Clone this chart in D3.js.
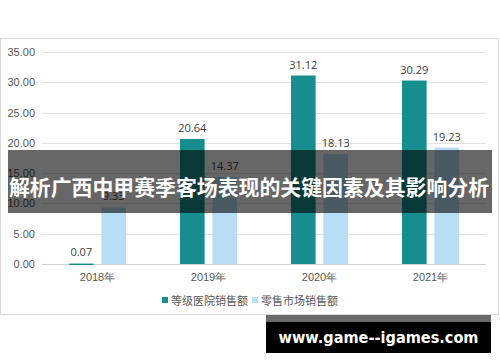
<!DOCTYPE html>
<html>
<head>
<meta charset="utf-8">
<script src="https://cdn.jsdelivr.net/npm/d3@7"></script>
<style>
  body { margin: 0; background: #fff; }
  svg { display: block; font-family: "Open Sans", "Noto Sans CJK SC", sans-serif; }
</style>
</head>
<body>
<svg id="chart" width="500" height="362"></svg>
<script>
// data
const years = ['2018年', '2019年', '2020年', '2021年'];
const seriesNames = ['等级医院销售额', '零售市场销售额'];
const hospitalSales = [0.07, 20.64, 31.12, 30.29];
const retailSales = [9.33, 14.37, 18.13, 19.23];
const yTicks = [0, 5, 10, 15, 20, 25, 30, 35];

const titleText = '解析广西中甲赛季客场表现的关键因素及其影响分析';
const watermark = 'www.game--igames.com';

const colors = ['#168e8f', '#b7def4'];

const svg = d3.select('#chart');

// chart frame
svg.append('rect')
  .attr('x', 0.5).attr('y', 38.5)
  .attr('width', 498).attr('height', 276)
  .attr('fill', '#fff')
  .attr('stroke', '#d9d9d9');

const plot = { left: 42, right: 486, top: 52, bottom: 264 };

const x = d3.scaleBand()
  .domain(years)
  .range([plot.left, plot.right]);

const xInner = d3.scaleBand()
  .domain([0, 1])
  .range([0, 57])
  .paddingInner(0.24);

const y = d3.scaleLinear()
  .domain([0, 35])
  .range([plot.bottom, plot.top]);

// gridlines
svg.append('g')
  .selectAll('line')
  .data(yTicks)
  .enter()
  .append('line')
    .attr('x1', plot.left).attr('x2', plot.right)
    .attr('y1', d => Math.round(y(d)) + 0.5)
    .attr('y2', d => Math.round(y(d)) + 0.5)
    .attr('stroke', d => d === 0 ? '#d0d0d0' : '#e3e3e3')
    .attr('stroke-width', 1);

// y axis labels
const yAxis = d3.axisLeft(y).tickValues(yTicks).tickFormat(d3.format('.2f')).tickSize(0).tickPadding(7);
svg.append('g')
  .attr('transform', 'translate(' + plot.left + ',0)')
  .call(yAxis)
  .call(g => g.select('.domain').remove())
  .selectAll('text')
    .attr('fill', '#595959')
    .style('font-size', '11px');

// x axis labels
const xAxis = d3.axisBottom(x).tickSize(0).tickPadding(9);
svg.append('g')
  .attr('transform', 'translate(0,' + plot.bottom + ')')
  .call(xAxis)
  .call(g => g.select('.domain').remove())
  .selectAll('text')
    .attr('fill', '#595959')
    .style('font-size', '11px');

// bars
const rows = years.map((yr, i) => ({ year: yr, values: [hospitalSales[i], retailSales[i]] }));

const groups = svg.append('g')
  .selectAll('g')
  .data(rows)
  .enter()
  .append('g')
    .attr('transform', d => 'translate(' + (x(d.year) + (x.bandwidth() - 57) / 2) + ',0)');

groups.selectAll('rect')
  .data(d => d.values.map((v, k) => ({ v: v, k: k })))
  .enter()
  .append('rect')
    .attr('x', d => xInner(d.k))
    .attr('width', xInner.bandwidth())
    .attr('y', d => y(d.v))
    .attr('height', d => Math.max(1.5, plot.bottom - y(d.v)))
    .attr('fill', d => colors[d.k]);

groups.selectAll('text')
  .data(d => d.values.map((v, k) => ({ v: v, k: k })))
  .enter()
  .append('text')
    .attr('x', d => xInner(d.k) + xInner.bandwidth() / 2)
    .attr('y', d => Math.min(y(d.v), plot.bottom - 1.5) - 7)
    .attr('text-anchor', 'middle')
    .attr('fill', '#404040')
    .style('font-size', '11px')
    .text(d => d3.format('.2f')(d.v));

// legend
const legendX = [162, 252];
const legend = svg.append('g');
seriesNames.forEach((name, k) => {
  legend.append('rect')
    .attr('x', legendX[k]).attr('y', 297)
    .attr('width', 6).attr('height', 6)
    .attr('fill', colors[k]);
  legend.append('text')
    .attr('x', legendX[k] + 9).attr('y', 304.5)
    .attr('fill', '#595959')
    .style('font-size', '11px')
    .style('font-family', '"Noto Sans CJK SC", sans-serif')
    .text(name);
});

// overlay banner
svg.append('rect')
  .attr('x', 8).attr('y', 150)
  .attr('width', 484).attr('height', 63)
  .attr('fill', 'rgba(0,0,0,0.6)');

svg.append('text')
  .attr('x', 249).attr('y', 189)
  .attr('text-anchor', 'middle')
  .attr('dominant-baseline', 'middle')
  .attr('fill', '#fff')
  .attr('textLength', 480)
  .attr('lengthAdjust', 'spacingAndGlyphs')
  .style('font-family', '"Noto Sans CJK SC", sans-serif')
  .style('font-weight', 'bold')
  .style('font-size', '21px')
  .text(titleText);

// watermark
svg.append('rect')
  .attr('x', 266).attr('y', 315)
  .attr('width', 225).attr('height', 7)
  .attr('fill', '#6b6b6b');
svg.append('rect')
  .attr('x', 266).attr('y', 322)
  .attr('width', 225).attr('height', 31)
  .attr('fill', '#000');
svg.append('text')
  .attr('x', 378.5).attr('y', 343)
  .attr('text-anchor', 'middle')
  .attr('fill', '#fff')
  .attr('textLength', 200)
  .attr('lengthAdjust', 'spacingAndGlyphs')
  .style('font-family', '"DejaVu Sans", sans-serif')
  .style('font-weight', 'bold')
  .style('font-size', '16px')
  .text(watermark);
</script>
</body>
</html>
